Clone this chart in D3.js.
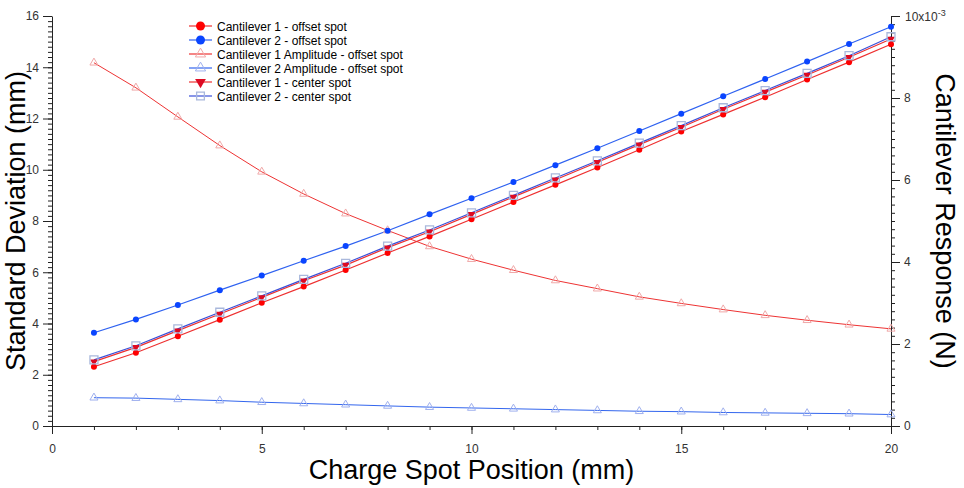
<!DOCTYPE html>
<html lang="en">
<head>
  <meta charset="UTF-8">
  <title>Cantilever Standard Deviation</title>
  <style>
    body { margin: 0; padding: 0; background: #fff; font-family: Arial, "Liberation Sans", sans-serif; }
    #chart { width: 964px; height: 488px; }
    .tick text { font-size: 12px; fill: #333; }
    .axis path, .axis line { stroke: #222; }
    .title { font-size: 27px; fill: #000; }
    .legend text { font-size: 12px; fill: #000; }
  </style>
</head>
<body>
<div id="chart"></div>
<script src="https://d3js.org/d3.v7.min.js"></script>
<script>
  // Data
  const positions = d3.range(1, 21);

  // left axis (Standard Deviation, mm)
  const c1Offset = [2.31, 2.86, 3.50, 4.15, 4.81, 5.44, 6.09, 6.75, 7.40, 8.07,
                    8.74, 9.41, 10.09, 10.78, 11.49, 12.16, 12.83, 13.52, 14.20, 14.90];
  const c2Offset = [3.64, 4.16, 4.72, 5.30, 5.87, 6.45, 7.02, 7.62, 8.26, 8.89,
                    9.52, 10.18, 10.84, 11.51, 12.19, 12.87, 13.54, 14.22, 14.91, 15.58];
  const c1Center = [2.51, 3.07, 3.72, 4.37, 5.02, 5.67, 6.28, 6.96, 7.58, 8.26,
                    8.94, 9.61, 10.29, 10.98, 11.66, 12.36, 13.03, 13.70, 14.39, 15.10];
  const c2Center = [2.58, 3.13, 3.79, 4.44, 5.08, 5.72, 6.35, 7.02, 7.65, 8.32,
                    9.00, 9.68, 10.35, 11.04, 11.72, 12.42, 13.09, 13.76, 14.45, 15.19];

  // right axis (Cantilever Response, x10^-3 N)
  const c1Amp = [8.86, 8.25, 7.54, 6.84, 6.20, 5.66, 5.18, 4.77, 4.38, 4.07,
                 3.80, 3.55, 3.35, 3.15, 2.99, 2.84, 2.70, 2.58, 2.47, 2.37];
  const c2Amp = [0.69, 0.68, 0.65, 0.62, 0.58, 0.55, 0.52, 0.49, 0.46, 0.44,
                 0.42, 0.40, 0.38, 0.36, 0.35, 0.33, 0.32, 0.31, 0.30, 0.28];

  const xTicks = [0, 5, 10, 15, 20];
  const leftTicks = [0, 2, 4, 6, 8, 10, 12, 14, 16];
  const rightTicks = [0, 2, 4, 6, 8, 10];

  const width = 964, height = 488;
  const margin = { left: 52, right: 73, top: 16, bottom: 62 };

  const svg = d3.select("#chart").append("svg")
      .attr("width", width)
      .attr("height", height);

  const x = d3.scaleLinear().domain([0, 20]).range([margin.left, width - margin.right]);
  const yL = d3.scaleLinear().domain([0, 16]).range([height - margin.bottom, margin.top]);
  const yR = d3.scaleLinear().domain([0, 10]).range([height - margin.bottom, margin.top]);

  // minor ticks first, then major axes on top
  svg.append("g").attr("class", "axis")
      .attr("transform", `translate(0,${height - margin.bottom})`)
      .call(d3.axisBottom(x).tickValues(d3.range(0, 21)).tickSize(4).tickFormat(""))
      .call(g => g.select(".domain").remove());
  svg.append("g").attr("class", "axis")
      .attr("transform", `translate(${margin.left},0)`)
      .call(d3.axisLeft(yL).tickValues(d3.range(0, 16.01, 0.2)).tickSize(4).tickFormat(""))
      .call(g => g.select(".domain").remove());
  svg.append("g").attr("class", "axis")
      .attr("transform", `translate(${width - margin.right},0)`)
      .call(d3.axisRight(yR).tickValues(d3.range(0, 10.01, 0.2)).tickSize(4).tickFormat(""))
      .call(g => g.select(".domain").remove());

  svg.append("g").attr("class", "axis")
      .attr("transform", `translate(0,${height - margin.bottom})`)
      .call(d3.axisBottom(x).tickValues(xTicks).tickSize(8).tickSizeOuter(0).tickPadding(6))
      .call(g => g.selectAll(".tick text").attr("dy", "1.05em"));
  svg.append("g").attr("class", "axis")
      .attr("transform", `translate(${margin.left},0)`)
      .call(d3.axisLeft(yL).tickValues(leftTicks).tickSize(9).tickSizeOuter(0).tickPadding(4));
  svg.append("g").attr("class", "axis")
      .attr("transform", `translate(${width - margin.right},0)`)
      .call(d3.axisRight(yR).tickValues(rightTicks).tickSize(9).tickSizeOuter(0).tickPadding(4)
        .tickFormat(d => d === 10 ? "" : d));

  // "10x10^-3" label
  const exp = svg.append("text")
      .attr("x", width - margin.right + 14)
      .attr("y", yR(10) + 5)
      .attr("font-size", 12).attr("fill", "#333");
  exp.append("tspan").text("10x10");
  exp.append("tspan").attr("font-size", 9).attr("dy", -5).text("-3");

  // titles
  svg.append("text").attr("class", "title")
      .attr("text-anchor", "middle")
      .attr("transform", `translate(25,${(yL(0) + yL(16)) / 2}) rotate(-90)`)
      .text("Standard Deviation (mm)");
  svg.append("text").attr("class", "title")
      .attr("text-anchor", "middle")
      .attr("transform", `translate(936,${(yL(0) + yL(16)) / 2}) rotate(90)`)
      .text("Cantilever Response (N)");
  svg.append("text").attr("class", "title")
      .attr("text-anchor", "middle")
      .attr("x", (x(0) + x(20)) / 2)
      .attr("y", 479)
      .text("Charge Spot Position (mm)");

  const symTriUp = d3.symbol().type(d3.symbolTriangle).size(28);
  const symTriDown = d3.symbol().type(d3.symbolTriangle).size(26);
  const symSquare = d3.symbol().type(d3.symbolSquare).size(64);

  const series = [
    { name: "Cantilever 1 Amplitude - offset spot", vals: c1Amp, y: yR, line: "#ee3333", width: 1,
      marker: "triUp", fill: "none", stroke: "#f0a8a8" },
    { name: "Cantilever 2 Amplitude - offset spot", vals: c2Amp, y: yR, line: "#3366ee", width: 1,
      marker: "triUp", fill: "none", stroke: "#9fb0ee" },
    { name: "Cantilever 1 - offset spot", vals: c1Offset, y: yL, line: "#ee3030", width: 1.2,
      marker: "circle", fill: "#ff0000", stroke: "none" },
    { name: "Cantilever 2 - offset spot", vals: c2Offset, y: yL, line: "#2f62f0", width: 1.2,
      marker: "circle", fill: "#0a45ff", stroke: "none" },
    { name: "Cantilever 1 - center spot", vals: c1Center, y: yL, line: "#ee3030", width: 1.2,
      marker: "triDown", fill: "#dd0a22", stroke: "none" },
    { name: "Cantilever 2 - center spot", vals: c2Center, y: yL, line: "#3a4fd8", width: 1.2,
      marker: "square", fill: "none", stroke: "#a9b8dc" }
  ];

  function drawMarker(g, s, px, py, big) {
    if (s.marker === "circle") {
      g.append("circle").attr("cx", px).attr("cy", py).attr("r", big ? 4.5 : 3)
        .attr("fill", s.fill);
    } else if (s.marker === "triUp") {
      g.append("path").attr("d", big ? d3.symbol().type(d3.symbolTriangle).size(45)() : symTriUp())
        .attr("transform", `translate(${px},${py})`)
        .attr("fill", "none").attr("stroke", s.stroke).attr("stroke-width", 1);
    } else if (s.marker === "triDown") {
      g.append("path").attr("d", big ? d3.symbol().type(d3.symbolTriangle).size(50)() : symTriDown())
        .attr("transform", `translate(${px},${py}) rotate(180)`)
        .attr("fill", s.fill);
    } else if (s.marker === "square") {
      g.append("path").attr("d", big ? d3.symbol().type(d3.symbolSquare).size(60)() : symSquare())
        .attr("transform", `translate(${px},${py})`)
        .attr("fill", "none").attr("stroke", s.stroke).attr("stroke-width", 1.3);
    }
  }

  const plot = svg.append("g");
  series.forEach(s => {
    const line = d3.line().x((d, i) => x(positions[i])).y(d => s.y(d));
    plot.append("path").datum(s.vals)
      .attr("d", line)
      .attr("fill", "none")
      .attr("stroke", s.line)
      .attr("stroke-width", s.width);
  });
  series.forEach(s => {
    const g = plot.append("g");
    s.vals.forEach((v, i) => drawMarker(g, s, x(positions[i]), s.y(v), false));
  });

  // legend (order as in the reference)
  const legendOrder = [
    "Cantilever 1 - offset spot",
    "Cantilever 2 - offset spot",
    "Cantilever 1 Amplitude - offset spot",
    "Cantilever 2 Amplitude - offset spot",
    "Cantilever 1 - center spot",
    "Cantilever 2 - center spot"
  ];
  const legend = svg.append("g").attr("class", "legend");
  legendOrder.forEach((name, i) => {
    const s = series.find(d => d.name === name);
    const ly = 26 + i * 14;
    legend.append("line")
      .attr("x1", 189).attr("x2", 212).attr("y1", ly).attr("y2", ly)
      .attr("stroke", s.line).attr("stroke-width", 1.2);
    drawMarker(legend, s, 200.5, ly, true);
    legend.append("text").attr("x", 217).attr("y", ly + 4.5).text(name);
  });
</script>
</body>
</html>
